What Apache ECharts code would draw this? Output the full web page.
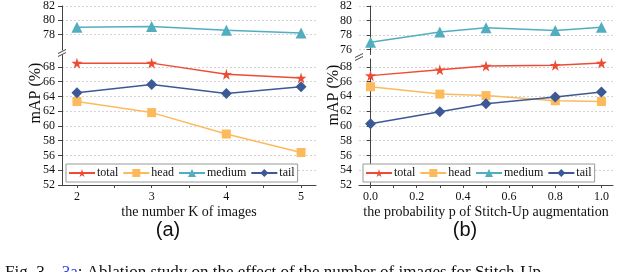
<!DOCTYPE html>
<html>
<head>
<meta charset="utf-8">
<script src="https://cdn.jsdelivr.net/npm/echarts@6/dist/echarts.min.js"></script>
<style>html,body{margin:0;padding:0;background:#fff;}#c{width:640px;height:272px;}</style>
</head>
<body>
<div id="c"></div>
<script>
// ---- data ----
const seriesNames = ['total', 'head', 'medium', 'tail'];
// (a) number K of images
const kValues = [2, 3, 4, 5];
const aTotal = [68.5, 68.5, 67.0, 66.5];
const aHead = [63.3, 61.8, 58.9, 56.4];
const aMedium = [79.0, 79.1, 78.6, 78.2];
const aTail = [64.5, 65.6, 64.4, 65.3];
// (b) probability p
const pValues = [0.0, 0.3, 0.5, 0.8, 1.0];
const bTotal = [66.8, 67.6, 68.1, 68.2, 68.5];
const bHead = [65.3, 64.3, 64.1, 63.4, 63.3];
const bMedium = [77.0, 78.4, 79.0, 78.6, 79.05];
const bTail = [60.3, 61.9, 63.0, 63.9, 64.6];
// tick labels
const aXLabels = [2, 3, 4, 5];
const aXTicks = [2, 2.5, 3, 3.5, 4, 4.5, 5];
const bXLabels = [0, 0.2, 0.4, 0.6, 0.8, 1.0];
const bXTicks = [0, 0.1, 0.2, 0.3, 0.4, 0.5, 0.6, 0.7, 0.8, 0.9, 1.0];
const lowerYTicks = [52, 54, 56, 58, 60, 62, 64, 66, 68];
const aUpperYTicks = [78, 80, 82];
const bUpperYTicks = [76, 78, 80, 82];

const colors = { total: '#EE4B35', head: '#FDBA5C', medium: '#52AEBF', tail: '#3B5995' };
const STAR = 'path://M50,0 L61,35 L98,35 L68,57 L79,91 L50,70 L21,91 L32,57 L2,35 L39,35 Z';
const symbols = { total: STAR, head: 'rect', medium: 'triangle', tail: 'diamond' };
const symSizes = { total: 11, head: 9, medium: 11, tail: 11 };

const SERIF = '"Liberation Serif", "Times New Roman", serif';
const axisLineColor = '#444';

function yAxisCfg(gridIndex, min, max, ticks) {
  return {
    type: 'value', gridIndex, min, max,
    axisLine: { show: true, lineStyle: { color: axisLineColor, width: 1 } },
    axisTick: { show: true, length: 4, inside: false, customValues: ticks, lineStyle: { color: axisLineColor } },
    axisLabel: { customValues: ticks, margin: 7, color: '#111', fontFamily: SERIF, fontSize: 12 },
    splitLine: { show: true, lineStyle: { color: '#d4d4d4', type: [2, 2], width: 1 } }
  };
}
function xAxisCfg(gridIndex, min, max, labels, ticks, show, name, fmt) {
  return {
    type: 'value', gridIndex, min, max, show,
    name: name, nameLocation: 'middle', nameGap: 20,
    nameTextStyle: { color: '#111', fontFamily: SERIF, fontSize: 14 },
    axisLine: { show: true, onZero: false, lineStyle: { color: axisLineColor, width: 1 } },
    axisTick: { show: true, length: 3, customValues: ticks, lineStyle: { color: axisLineColor } },
    axisLabel: { customValues: labels, margin: 6, color: '#111', fontFamily: SERIF, fontSize: 12, formatter: fmt },
    splitLine: { show: false }
  };
}
function mkSeries(name, xs, ys, xi, yi) {
  return {
    type: 'line', name, xAxisIndex: xi, yAxisIndex: yi,
    data: xs.map((x, i) => [x, ys[i]]),
    symbol: symbols[name], symbolSize: symSizes[name],
    lineStyle: { color: colors[name], width: 1.5 },
    itemStyle: { color: colors[name] },
    animation: false
  };
}
function legendCfg(left) {
  return {
    left, top: 164, data: seriesNames,
    orient: 'horizontal', itemWidth: 26, itemHeight: 10, itemGap: 4,
    padding: [3, 3, 3, 2],
    borderColor: '#999', borderWidth: 1, backgroundColor: '#fff',
    textStyle: { color: '#111', fontFamily: SERIF, fontSize: 12, padding: [0, 0, 0, -3] }
  };
}
function breakMarks(x, y) {
  return [
    { type: 'line', shape: { x1: x - 4, y1: y + 1, x2: x + 4, y2: y - 3 }, style: { stroke: '#444', lineWidth: 1 } },
    { type: 'line', shape: { x1: x - 4, y1: y + 4, x2: x + 4, y2: y }, style: { stroke: '#444', lineWidth: 1 } }
  ];
}

const chart = echarts.init(document.getElementById('c'), null, { renderer: 'canvas' });
chart.setOption({
  animation: false,
  backgroundColor: '#fff',
  grid: [
    { left: 62, width: 254, top: 5, height: 45 },   // a upper
    { left: 62, width: 254, top: 55, height: 130 }, // a lower
    { left: 359, width: 254, top: 5, height: 49.5 },  // b upper
    { left: 359, width: 254, top: 59, height: 126 }  // b lower
  ],
  xAxis: [
    xAxisCfg(0, 1.8, 5.2, aXLabels, aXTicks, false, '', v => String(v)),
    xAxisCfg(1, 1.8, 5.2, aXLabels, aXTicks, true, 'the number K of images', v => String(v)),
    xAxisCfg(2, -0.05, 1.05, bXLabels, bXTicks, false, '', v => v.toFixed(1)),
    xAxisCfg(3, -0.05, 1.05, bXLabels, bXTicks, true, 'the probability p of Stitch-Up augmentation', v => v.toFixed(1))
  ],
  yAxis: [
    yAxisCfg(0, 75.8, 82, aUpperYTicks),
    yAxisCfg(1, 52, 69.6, lowerYTicks),
    yAxisCfg(2, 75.3, 82, bUpperYTicks),
    yAxisCfg(3, 52, 69.05, lowerYTicks)
  ],
  legend: [legendCfg(66), legendCfg(363)],
  series: [
    mkSeries('total', kValues, aTotal, 1, 1),
    mkSeries('head', kValues, aHead, 1, 1),
    mkSeries('medium', kValues, aMedium, 0, 0),
    mkSeries('tail', kValues, aTail, 1, 1),
    mkSeries('total', pValues, bTotal, 3, 3),
    mkSeries('head', pValues, bHead, 3, 3),
    mkSeries('medium', pValues, bMedium, 2, 2),
    mkSeries('tail', pValues, bTail, 3, 3)
  ],
  graphic: [
    ...breakMarks(62, 52.5),
    ...breakMarks(359, 56.5),
    { type: 'text', x: 36, y: 93, rotation: Math.PI / 2,
      style: { text: 'mAP (%)', fill: '#111', font: '16px ' + SERIF, align: 'center', verticalAlign: 'middle' } },
    { type: 'text', x: 334, y: 95, rotation: Math.PI / 2,
      style: { text: 'mAP (%)', fill: '#111', font: '16px ' + SERIF, align: 'center', verticalAlign: 'middle' } },
    { type: 'text', x: 168, y: 230,
      style: { text: '(a)', fill: '#111', font: '20px "Liberation Sans", Arial, sans-serif', align: 'center', verticalAlign: 'middle' } },
    { type: 'text', x: 465, y: 230,
      style: { text: '(b)', fill: '#111', font: '20px "Liberation Sans", Arial, sans-serif', align: 'center', verticalAlign: 'middle' } },
    { type: 'text', x: 5, y: 264,
      style: {
        text: '{k|Fig. 3}    {b|3a}{k|: Ablation study on the effect of the number of images for Stitch-Up}',
        verticalAlign: 'top',
        rich: {
          k: { fill: '#111', font: '17px ' + SERIF },
          b: { fill: '#3344ee', font: '17px ' + SERIF }
        },
        font: '17px ' + SERIF, fill: '#111'
      } }
  ]
});
</script>
</body>
</html>
